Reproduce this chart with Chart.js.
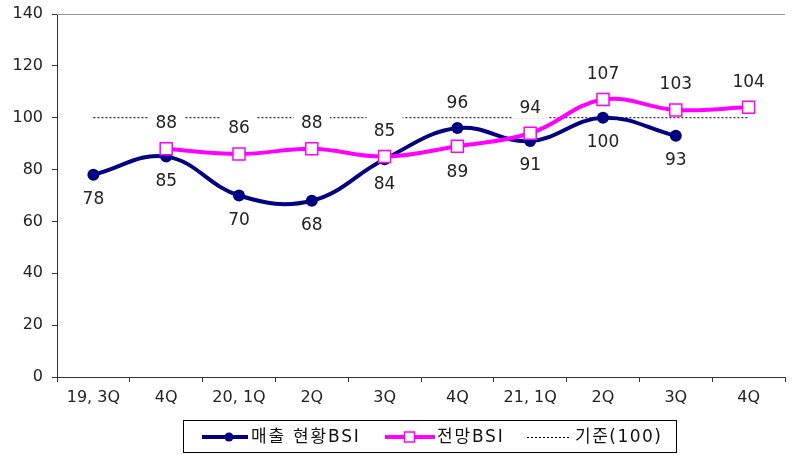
<!DOCTYPE html>
<html>
<head>
<meta charset="utf-8">
<script src="https://cdn.jsdelivr.net/npm/chart.js@4/dist/chart.umd.min.js"></script>
<style>
html,body{margin:0;padding:0;background:#fff;}
#wrap{width:795px;height:455px;position:relative;}
</style>
</head>
<body>
<div id="wrap"><canvas id="c" width="795" height="455"></canvas></div>
<script>
// ---- data ----
const categories = ['19, 3Q','4Q','20, 1Q','2Q','3Q','4Q','21, 1Q','2Q','3Q','4Q'];
const salesBSI   = [78, 85, 70, 68, 84, 96, 91, 100, 93, null];
const outlookBSI = [null, 88, 86, 88, 85, 89, 94, 107, 103, 104];
const baseline   = [100, 100, 100, 100, 100, 100, 100, 100, 100, 100];
const seriesNames = ['매출 현황BSI', '전망BSI', '기준(100)'];
const yTicks = [0, 20, 40, 60, 80, 100, 120, 140];

const NAVY = '#000080';
const MAGENTA = '#FF00FF';
const FONT = "'DejaVu Sans', 'Noto Sans CJK KR', sans-serif";

const labelPlugin = {
  id: 'labels',
  afterDatasetDraw(chart, args) {
    if (args.index !== 2) return;
    const ctx = chart.ctx;
    ctx.save();
    ctx.fillStyle = '#fff';
    for (const p of labelPositions(chart)) {
      ctx.fillRect(p.x - 18, p.y - 17, 36, 27);
    }
    ctx.restore();
  },
  afterDatasetsDraw(chart) {
    const ctx = chart.ctx;
    ctx.save();
    ctx.font = '17px ' + FONT;
    ctx.fillStyle = '#222';
    ctx.textAlign = 'center';
    ctx.textBaseline = 'middle';
    for (const p of labelPositions(chart)) {
      ctx.fillText(String(p.v), p.x, p.y);
    }
    ctx.restore();
  },
  afterDraw(chart) {
    const ctx = chart.ctx;
    const a = chart.chartArea;
    ctx.save();
    ctx.strokeStyle = '#999';
    ctx.lineWidth = 1;
    ctx.beginPath();
    ctx.moveTo(a.left, Math.round(a.top) + 0.5);
    ctx.lineTo(a.right, Math.round(a.top) + 0.5);
    ctx.stroke();
    // legend
    const ly = 437;
    ctx.strokeStyle = '#000';
    ctx.strokeRect(183.5, 420.5, 493, 32);
    ctx.strokeStyle = NAVY; ctx.lineWidth = 4;
    ctx.beginPath(); ctx.moveTo(202, ly); ctx.lineTo(248, ly); ctx.stroke();
    ctx.fillStyle = NAVY;
    ctx.beginPath(); ctx.arc(229, ly, 4.5, 0, Math.PI * 2); ctx.fill();
    ctx.strokeStyle = MAGENTA; ctx.lineWidth = 4;
    ctx.beginPath(); ctx.moveTo(385, ly); ctx.lineTo(435, ly); ctx.stroke();
    ctx.fillStyle = '#fff'; ctx.lineWidth = 1.5;
    ctx.fillRect(404.5, ly - 5, 10, 10); ctx.strokeRect(404.5, ly - 5, 10, 10);
    ctx.strokeStyle = '#000'; ctx.lineWidth = 1; ctx.setLineDash([2, 2]);
    ctx.beginPath(); ctx.moveTo(527, ly + 0.5); ctx.lineTo(571, ly + 0.5); ctx.stroke();
    ctx.setLineDash([]);
    ctx.fillStyle = '#111';
    ctx.font = '17px ' + FONT;
    ctx.textBaseline = 'middle';
    ctx.textAlign = 'left';
    ctx.letterSpacing = '1.8px';
    ctx.fillText(seriesNames[0], 251, ly + 1);
    ctx.fillText(seriesNames[1], 437, ly + 1);
    ctx.letterSpacing = '1.5px';
    ctx.fillText(seriesNames[2], 575, ly + 1);
    ctx.restore();
  }
};

function labelPositions(chart) {
  const out = [];
  const m0 = chart.getDatasetMeta(0), m1 = chart.getDatasetMeta(1);
  const d0 = chart.data.datasets[0].data, d1 = chart.data.datasets[1].data;
  for (let i = 0; i < categories.length; i++) {
    const a = d0[i], b = d1[i];
    if (a != null) {
      const pt = m0.data[i];
      const above = (b != null && a > b);
      out.push({x: pt.x, y: pt.y + (above ? -25 : 25), v: a});
    }
    if (b != null) {
      const pt = m1.data[i];
      const below = (a != null && a > b);
      out.push({x: pt.x, y: pt.y + (below ? 26 : -25), v: b});
    }
  }
  return out;
}

new Chart(document.getElementById('c'), {
  type: 'line',
  data: {
    labels: categories,
    datasets: [
      {
        label: seriesNames[0], data: salesBSI, order: 1,
        borderColor: NAVY, backgroundColor: NAVY, borderWidth: 4,
        tension: 0.4, pointStyle: 'circle', pointRadius: 6,
        pointBackgroundColor: NAVY, pointBorderColor: NAVY, pointBorderWidth: 0
      },
      {
        label: seriesNames[1], data: outlookBSI, order: 0,
        borderColor: MAGENTA, backgroundColor: '#fff', borderWidth: 4,
        tension: 0.4, pointStyle: 'rect', pointRadius: 8.5,
        pointBackgroundColor: '#fff', pointBorderColor: MAGENTA, pointBorderWidth: 1.5
      },
      {
        label: seriesNames[2], data: baseline, order: 2,
        borderColor: '#000', borderWidth: 1, borderDash: [2, 2],
        pointRadius: 0, tension: 0
      }
    ]
  },
  options: {
    responsive: false,
    animation: false,
    events: [],
    layout: { padding: { top: 14, right: 0, bottom: 0, left: 0 } },
    plugins: { legend: { display: false }, tooltip: { enabled: false } },
    scales: {
      x: {
        type: 'category',
        offset: true,
        grid: { display: true, drawOnChartArea: false, drawTicks: true, tickLength: 5, offset: true, color: '#333' },
        border: { display: true, color: '#333', width: 1 },
        ticks: { color: '#222', font: { family: FONT, size: 16 }, padding: 6, maxRotation: 0, autoSkip: false },
        afterFit(s) { s.height = 78; s.paddingLeft = 0; s.paddingRight = 0; s.paddingTop = 0; s.paddingBottom = 0; }
      },
      y: {
        min: 0, max: 140,
        afterBuildTicks(s) { s.ticks = yTicks.map(v => ({ value: v })); },
        grid: { display: true, drawOnChartArea: false, drawTicks: true, tickLength: 5, color: '#333' },
        border: { display: true, color: '#333', width: 1 },
        ticks: { color: '#222', font: { family: FONT, size: 16 }, padding: 9 },
        afterFit(s) { s.width = 57; s.paddingTop = 0; s.paddingBottom = 0; s.paddingLeft = 0; s.paddingRight = 0; }
      }
    }
  },
  plugins: [labelPlugin]
});
</script>
</body>
</html>
